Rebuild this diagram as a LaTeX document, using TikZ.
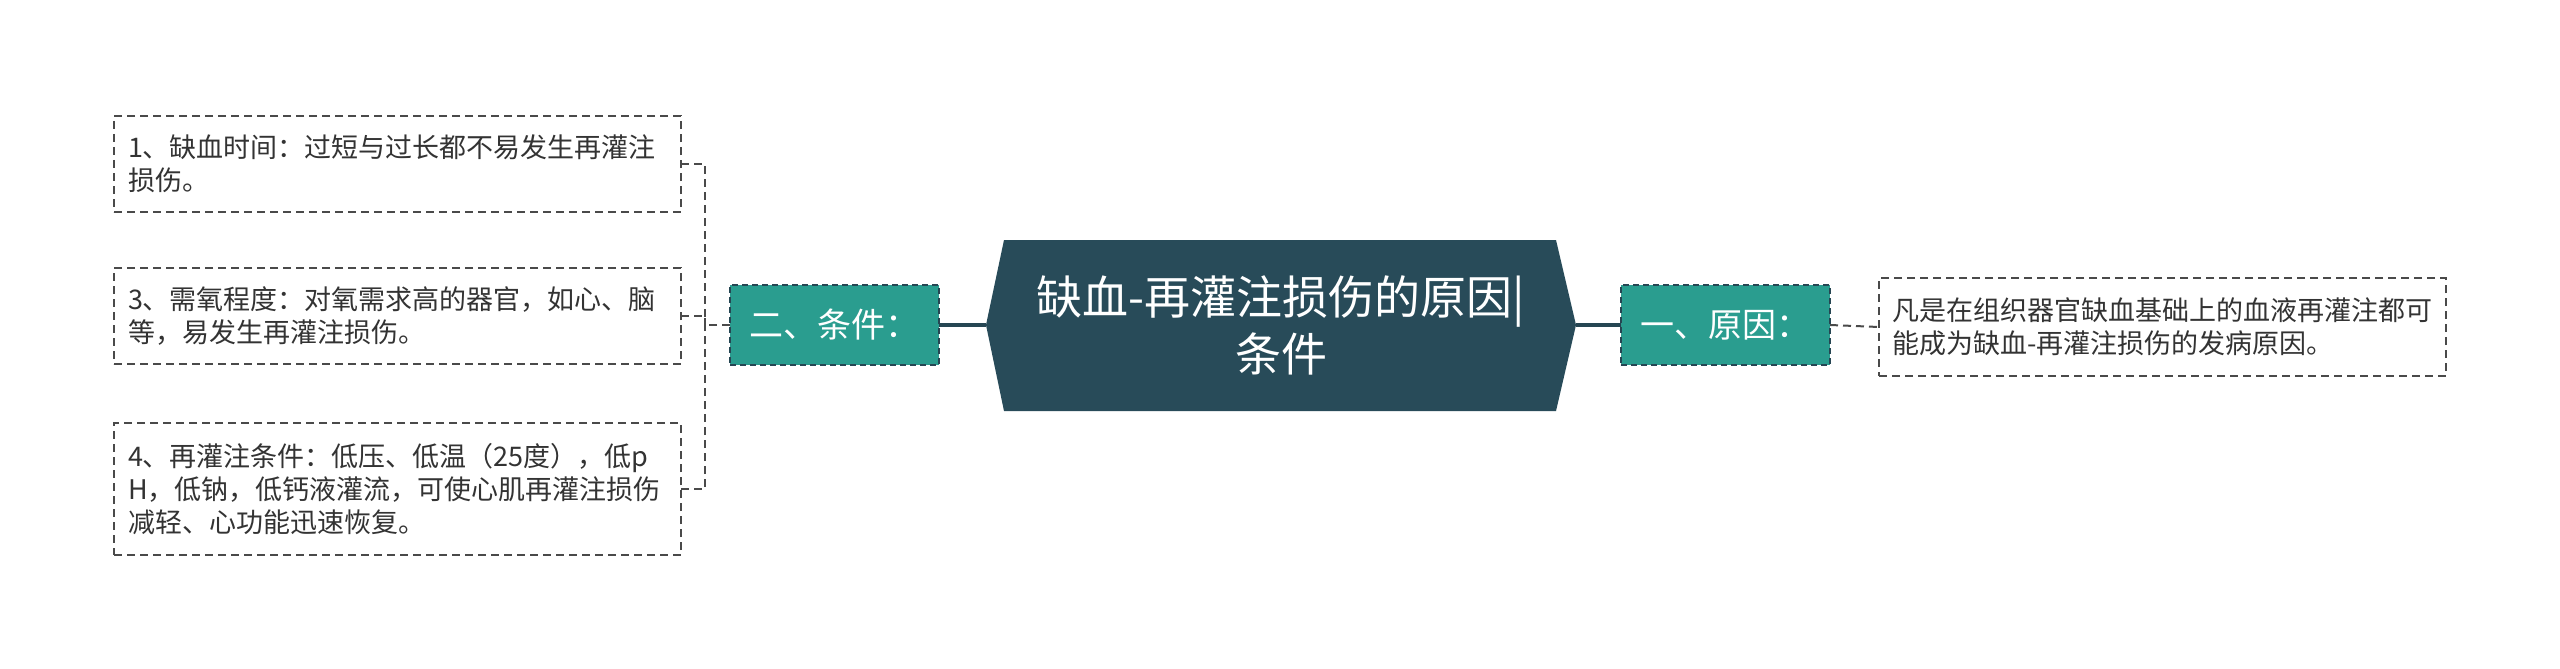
\documentclass[tikz,border=0pt]{standalone}
\usepackage{fontspec}
\setmainfont{Noto Sans CJK SC}
\definecolor{rootc}{HTML}{284B59}
\definecolor{tealc}{HTML}{2A9D8F}
\definecolor{linec}{HTML}{264653}
\definecolor{leafb}{HTML}{4A4A4A}
\definecolor{leaft}{HTML}{333333}
\begin{document}
\begin{tikzpicture}[x=1pt,y=-1pt,
  catbox/.style={draw=linec, fill=tealc, line width=2pt, dash pattern=on 6pt off 4pt,
    text=white, font=\fontsize{34}{40}\selectfont, anchor=center,
    minimum width=209pt, minimum height=80pt, inner sep=0pt, outer sep=0pt},
  leafbox/.style={draw=leafb, line width=2pt, dash pattern=on 8pt off 5pt,
    text=leaft, font=\fontsize{27}{33}\selectfont, anchor=north west,
    align=left, inner ysep=0pt, outer sep=0pt},
  mainline/.style={draw=linec, line width=3.5pt},
  dashline/.style={draw=leafb, line width=2pt, dash pattern=on 8pt off 5pt}]
\useasboundingbox (0,0) rectangle (2560,669);
\fill[white] (0,0) rectangle (2560,669);
% central shape
\coordinate (cl) at (986,325);
\coordinate (cr) at (1576,325);
\fill[rootc] (1004,240) -- (1556,240) -- (cr) -- (1556,411) -- (1004,411) -- (cl) -- cycle;
\node[text=white, font=\fontsize{46}{57}\selectfont, align=center] (root) at (1281,325)
  {缺血-再灌注损伤的原因|\\条件};
% category boxes
\node[catbox] (c1) at (1725.5,325) {一、原因：};
\node[catbox] (c2) at (834.5,325) {二、条件：};
% leaves
\node[leafbox, inner xsep=13pt, text width=541pt, minimum height=98pt] (r1) at (1879,278)
  {凡是在组织器官缺血基础上的血液再灌注都可\\能成为缺血-再灌注损伤的发病原因。};
\node[leafbox, inner xsep=14pt, text width=539pt, minimum height=96pt] (l1) at (114,116)
  {1、缺血时间：过短与过长都不易发生再灌注\\损伤。};
\node[leafbox, inner xsep=14pt, text width=539pt, minimum height=96pt] (l3) at (114,268)
  {3、需氧程度：对氧需求高的器官，如心、脑\\等，易发生再灌注损伤。};
\node[leafbox, inner xsep=14pt, text width=539pt, minimum height=132pt] (l4) at (114,423)
  {4、再灌注条件：低压、低温（25度），低p\\H，低钠，低钙液灌流，可使心肌再灌注损伤\\减轻、心功能迅速恢复。};
% connectors
\draw[mainline] (cr) -- (c1.west);
\draw[mainline] (cl) -- (c2.east);
\draw[dashline] (c1.east) -- (r1.west);
\coordinate (j) at (705,325);
\draw[dashline] (c2.west) -- (j);
\draw[dashline] (l1.east) -| (j);
\draw[dashline] (l3.east) -| (j);
\draw[dashline] (l4.east) -| (j);
\end{tikzpicture}
\end{document}
